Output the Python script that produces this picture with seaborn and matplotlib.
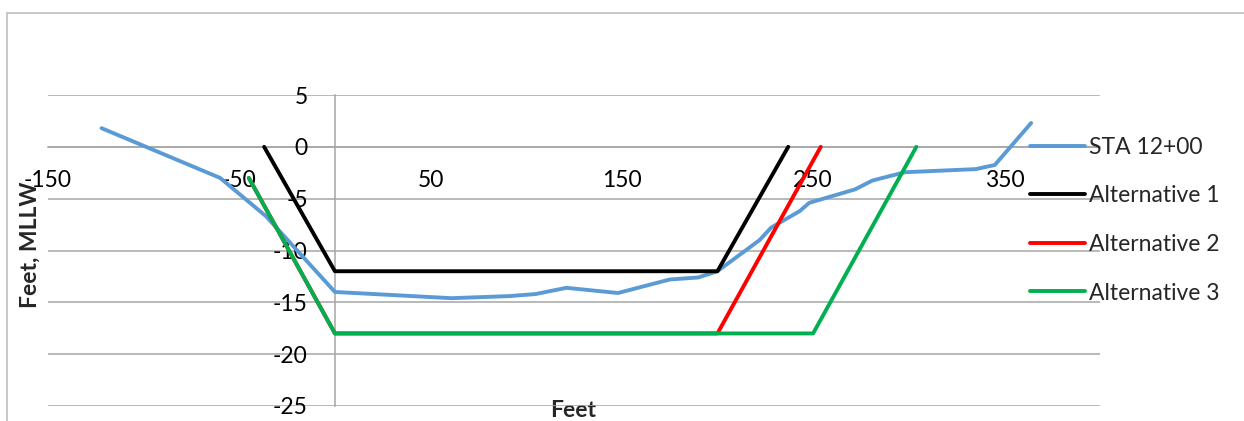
import matplotlib
matplotlib.use("Agg")
import matplotlib.pyplot as plt
from matplotlib.patches import Rectangle
import seaborn as sns
import pandas as pd

# existing ground, STA 12+00
sta_x = [-122, -60, -36, 0, 61, 91, 105, 121, 148, 175, 190, 200, 222, 228, 243, 248, 272, 281, 298, 335, 345, 364]
sta_y = [1.8, -3.0, -6.7, -14.0, -14.6, -14.4, -14.2, -13.6, -14.1, -12.8, -12.6, -12.0, -9.0, -7.8, -6.2, -5.4, -4.1, -3.25, -2.45, -2.15, -1.75, 2.3]

alt1_x = [-37, 0, 200, 237]
alt1_y = [0, -12, -12, 0]

alt2_x = [-45, 0, 200, 254]
alt2_y = [-3, -18, -18, 0]

alt3_x = [-45, 0, 250, 304]
alt3_y = [-3, -18, -18, 0]

series = [
    ("STA 12+00", sta_x, sta_y, "#5B9BD5"),
    ("Alternative 1", alt1_x, alt1_y, "#000000"),
    ("Alternative 2", alt2_x, alt2_y, "#FF0000"),
    ("Alternative 3", alt3_x, alt3_y, "#00B050"),
]

x_ticks = [-150, -50, 50, 150, 250, 350]
y_ticks = [-25, -20, -15, -10, -5, 0, 5]

sns.set_style("white")
plt.rcParams['font.family'] = ['Lato', 'DejaVu Sans']
plt.rcParams['axes.unicode_minus'] = False

FS = 16.5
W, H = 1244, 421
fig = plt.figure(figsize=(W / 100, H / 100), dpi=100)
ax = fig.add_axes([48 / W, (H - 406) / H, (1100 - 48) / W, (406 - 95) / H])

for name, xs, ys, color in series:
    df = pd.DataFrame({"x": xs, "y": ys})
    sns.lineplot(data=df, x="x", y="y", ax=ax, color=color, linewidth=2.8,
                 sort=False, estimator=None, label=name)

ax.set_xlim(-150, 400)
ax.set_ylim(-25, 5)
ax.set_xticks(x_ticks)
ax.set_yticks(y_ticks)

grid_col = "#A6A6A6"
ax.grid(axis="y", color=grid_col, linewidth=1.1)
ax.grid(axis="x", visible=False)
ax.set_axisbelow(True)

for s in ["top", "right"]:
    ax.spines[s].set_visible(False)
ax.spines["left"].set_position(("data", 0))
ax.spines["bottom"].set_position(("data", 0))
for s in ["left", "bottom"]:
    ax.spines[s].set_color(grid_col)
    ax.spines[s].set_linewidth(1.1)
    ax.spines[s].set_zorder(0.5)

ax.tick_params(axis="x", direction="out", length=5.5, width=1, color=grid_col,
               labelsize=FS, pad=11, labelcolor="black")
ax.tick_params(axis="y", direction="out", length=6.5, width=1, color=grid_col,
               labelsize=FS, pad=13, labelcolor="black")

ax.set_xlabel("Feet", fontsize=FS, fontweight="bold")
ax.set_ylabel("Feet, MLLW", fontsize=FS, fontweight="bold")
ax.xaxis.set_label_coords(0.499, 0.018)
ax.yaxis.set_label_coords(-0.007, 0.518)

leg = ax.legend(loc="upper left", bbox_to_anchor=(1030 / W, (H - 137) / H),
                bbox_transform=fig.transFigure, frameon=False, fontsize=FS,
                handlelength=2.4, handletextpad=0.18, labelspacing=1.2,
                borderaxespad=0, borderpad=0)

# chart area border
fig.add_artist(Rectangle((7 / W, -0.2), 1.2, (H - 13) / H + 0.2,
                         transform=fig.transFigure, fill=False,
                         edgecolor="#BFBFBF", linewidth=1.2))

fig.savefig("out.png", dpi=100)
